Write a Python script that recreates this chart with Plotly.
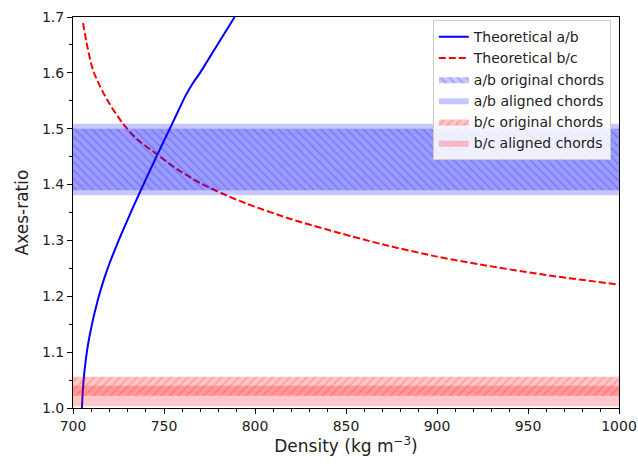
import plotly.graph_objects as go

# Theoretical curves
ab_density = [704.9, 705.2, 705.6, 706.1, 706.8, 707.6, 708.6, 709.8, 711.1, 712.6, 714.2, 716.0, 718.0,
              720.2, 722.6, 725.1, 727.7, 730.4, 733.1, 735.9, 738.7, 741.5, 744.4, 747.3, 750.2,
              753.2, 756.1, 759.0, 761.5, 765.6, 769.8, 773.6, 777.4, 781.2, 785.0, 788.8]
ab_ratio = [1.00, 1.02, 1.04, 1.06, 1.08, 1.10, 1.12, 1.14, 1.16, 1.18, 1.20, 1.22, 1.24,
            1.26, 1.28, 1.30, 1.32, 1.34, 1.36, 1.38, 1.40, 1.42, 1.44, 1.46, 1.48,
            1.50, 1.52, 1.54, 1.557, 1.58, 1.60, 1.62, 1.64, 1.66, 1.68, 1.70]

bc_density = [705.5, 708.0, 711.0, 715.0, 720.0, 727.5, 735.0, 745.8, 757.0, 769.8, 782.0, 795.2, 820.0, 846.7, 870.0, 900.0, 923.6, 960.0, 1000.0]
bc_ratio = [1.689, 1.645, 1.605, 1.575, 1.545, 1.509, 1.482, 1.455, 1.428, 1.403, 1.384, 1.366, 1.338, 1.313, 1.293, 1.271, 1.257, 1.238, 1.221]

# Measured bands [low, high]
ab_original = [1.390, 1.500]
ab_aligned = [1.381, 1.509]
bc_original = [1.022, 1.056]
bc_aligned = [1.003, 1.040]

x_range = [700, 1000]
y_range = [1.0, 1.7]

FONT = "DejaVu Sans"

fig = go.Figure()

fig.add_trace(go.Scatter(x=ab_density, y=ab_ratio, mode="lines", name="Theoretical a/b",
                         line=dict(color="rgb(0,0,255)", width=2, shape="spline", smoothing=1.0)))
fig.add_trace(go.Scatter(x=bc_density, y=bc_ratio, mode="lines", name="Theoretical b/c",
                         line=dict(color="rgb(255,0,0)", width=2, dash="7px,3px",
                                   shape="spline", smoothing=0.8)))


def band(lo_hi, name, color, hatch=None):
    lo, hi = lo_hi
    xs = [x_range[0], x_range[1], x_range[1], x_range[0], x_range[0]]
    ys = [lo, lo, hi, hi, lo]
    kw = {}
    if hatch:
        kw["fillpattern"] = dict(shape=hatch, fgcolor=f"rgba({color},0.22)",
                                 bgcolor=f"rgba({color},0.22)", size=6, solidity=0.25,
                                 fillmode="replace")
        fillcolor = f"rgba({color},0.22)"
    else:
        fillcolor = f"rgba({color},0.22)"
    return go.Scatter(x=xs, y=ys, mode="lines", fill="toself", fillcolor=fillcolor,
                      line=dict(width=0, color=fillcolor), name=name, hoverinfo="skip", **kw)


fig.add_trace(band(ab_original, "a/b original chords", "0,0,255", hatch="\\"))
fig.add_trace(band(ab_aligned, "a/b aligned chords", "0,0,255"))
fig.add_trace(band(bc_original, "b/c original chords", "255,0,0", hatch="/"))
fig.add_trace(band(bc_aligned, "b/c aligned chords", "255,0,0"))

axis_common = dict(showline=True, linecolor="black", linewidth=1, mirror=True,
                   ticks="outside", ticklen=5, tickwidth=1, tickcolor="black",
                   showgrid=False, zeroline=False, automargin=False,
                   tickfont=dict(family=FONT, size=14, color="#222"))

fig.update_xaxes(range=x_range, dtick=50, tick0=700,
                 minor=dict(dtick=10, ticklen=3, ticks="outside", tickcolor="black", showgrid=False),
                 title=dict(text="Density (kg m<sup>−3</sup>)", font=dict(family=FONT, size=17, color="#222"),
                            standoff=6),
                 **axis_common)
fig.update_yaxes(range=y_range, dtick=0.1, tick0=1.0, tickformat=".1f",
                 minor=dict(dtick=0.05, ticklen=3, ticks="outside", tickcolor="black", showgrid=False),
                 title=dict(text="Axes-ratio", font=dict(family=FONT, size=17, color="#222"),
                            standoff=8),
                 **axis_common)

fig.update_layout(
    width=638, height=466,
    margin=dict(l=73, r=19, t=17, b=58),
    plot_bgcolor="white", paper_bgcolor="white",
    font=dict(family=FONT, size=14, color="#222"),
    legend=dict(x=0.985, y=0.992, xanchor="right", yanchor="top",
                bgcolor="rgba(255,255,255,0.85)", bordercolor="#ccc", borderwidth=1,
                font=dict(family=FONT, size=14, color="#222"), itemwidth=30,
                tracegroupgap=0),
    showlegend=True,
)

fig.write_html("out.html")
